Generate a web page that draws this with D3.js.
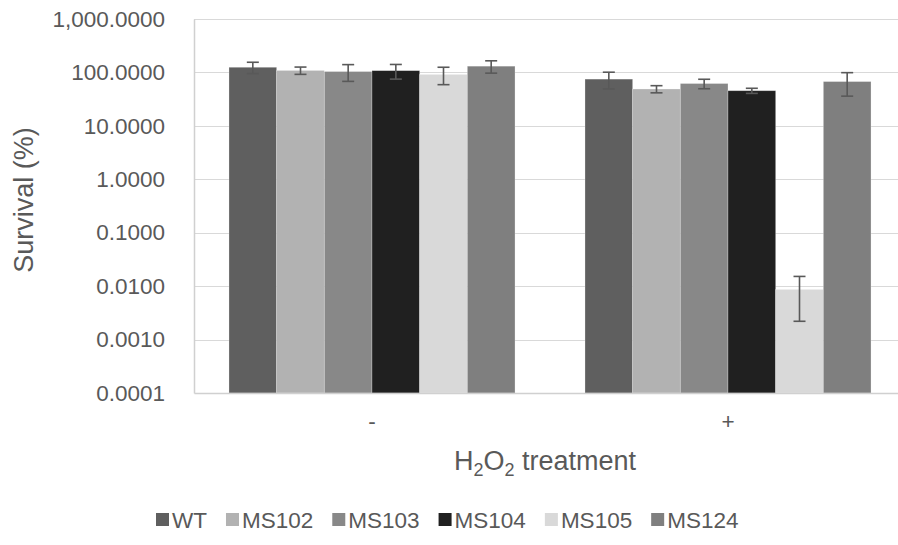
<!DOCTYPE html>
<html>
<head>
<meta charset="utf-8">
<script src="https://cdn.jsdelivr.net/npm/d3@7"></script>
<style>
  html, body { margin: 0; padding: 0; background: #fff; }
  svg { display: block; font-family: "Liberation Sans", Arial, sans-serif; }
</style>
</head>
<body>
<svg id="chart" width="898" height="545"></svg>
<script>
// Survival (%) of each strain with and without H2O2 treatment (log scale)
const treatments = ["-", "+"];
const strains = ["WT", "MS102", "MS103", "MS104", "MS105", "MS124"];
const strainColors = ["#5f5f5f", "#b2b2b2", "#888888", "#202020", "#d9d9d9", "#7f7f7f"];

// mean survival per strain, one array per treatment
const survivalUntreated = [125, 109, 104, 108, 92, 131];
const survivalTreated = [75, 49, 62, 45.5, 0.0087, 67.5];
// error bar half-lengths
const errorUntreated = [30, 17, 36, 33, 33, 34];
const errorTreated = [26, 7.5, 12.5, 5, 0.0065, 31.5];

const yTicks = [0.0001, 0.001, 0.01, 0.1, 1, 10, 100, 1000];

const svg = d3.select("#chart");
const plotLeft = 194, plotRight = 906, plotTop = 19, plotBottom = 393;
const textColor = "#595959";

const x0 = d3.scaleBand().domain(treatments).range([plotLeft, plotRight]).paddingInner(0).paddingOuter(0);
const x1 = d3.scaleBand().domain(strains).range([0, x0.bandwidth()]).paddingInner(0).paddingOuter(0.734);
const y = d3.scaleLog().domain([0.0001, 1000]).range([plotBottom, plotTop]);
const color = d3.scaleOrdinal().domain(strains).range(strainColors);

const rows = [
  { t: "-", values: survivalUntreated, errors: errorUntreated },
  { t: "+", values: survivalTreated, errors: errorTreated }
];

// gridlines
svg.append("g")
  .selectAll("line")
  .data(yTicks.slice(1))
  .join("line")
  .attr("x1", plotLeft).attr("x2", plotRight)
  .attr("y1", d => Math.round(y(d)) + 0.5).attr("y2", d => Math.round(y(d)) + 0.5)
  .attr("stroke", "#d9d9d9").attr("stroke-width", 1);

// y axis
const yAxis = svg.append("g")
  .attr("transform", `translate(${plotLeft},0)`)
  .call(d3.axisLeft(y).tickValues(yTicks).tickFormat(d3.format(",.4f")).tickSize(0).tickPadding(29));
yAxis.select(".domain").attr("stroke", "#d0d0d0").attr("stroke-width", 1.5);
yAxis.selectAll("text").attr("fill", textColor).style("font-size", "22.5px")
  .attr("font-family", "Liberation Sans, Arial, sans-serif");

// bars
const groups = svg.append("g")
  .selectAll("g")
  .data(rows)
  .join("g")
  .attr("transform", d => `translate(${x0(d.t)},0)`);

groups.selectAll("rect")
  .data(d => d.values.map((v, i) => ({ strain: strains[i], v, e: d.errors[i] })))
  .join("rect")
  .attr("x", d => x1(d.strain))
  .attr("width", x1.bandwidth())
  .attr("y", d => y(d.v))
  .attr("height", d => plotBottom - y(d.v))
  .attr("fill", d => color(d.strain))
  .attr("stroke", "#ffffff").attr("stroke-opacity", 0.35).attr("stroke-width", 0.75);

// error bars
const capHalf = 6;
const eb = groups.selectAll("g.err")
  .data(d => d.values.map((v, i) => ({ strain: strains[i], v, e: d.errors[i] })))
  .join("g").attr("class", "err")
  .attr("stroke", "#595959").attr("stroke-width", 1.6);
eb.append("line")
  .attr("x1", d => x1(d.strain) + x1.bandwidth() / 2)
  .attr("x2", d => x1(d.strain) + x1.bandwidth() / 2)
  .attr("y1", d => y(d.v + d.e)).attr("y2", d => y(d.v - d.e));
eb.append("line")
  .attr("x1", d => x1(d.strain) + x1.bandwidth() / 2 - capHalf)
  .attr("x2", d => x1(d.strain) + x1.bandwidth() / 2 + capHalf)
  .attr("y1", d => y(d.v + d.e)).attr("y2", d => y(d.v + d.e));
eb.append("line")
  .attr("x1", d => x1(d.strain) + x1.bandwidth() / 2 - capHalf)
  .attr("x2", d => x1(d.strain) + x1.bandwidth() / 2 + capHalf)
  .attr("y1", d => y(d.v - d.e)).attr("y2", d => y(d.v - d.e));

// x axis
const xAxis = svg.append("g")
  .attr("transform", `translate(0,${plotBottom})`)
  .call(d3.axisBottom(x0).tickSize(0).tickPadding(20));
xAxis.select(".domain").attr("stroke", "#d0d0d0").attr("stroke-width", 1.5);
xAxis.selectAll("text").attr("fill", textColor).style("font-size", "22.5px")
  .attr("font-family", "Liberation Sans, Arial, sans-serif");

// axis titles
const xTitle = svg.append("text")
  .attr("x", 545).attr("y", 470)
  .attr("text-anchor", "middle")
  .attr("fill", textColor).style("font-size", "27px");
xTitle.append("tspan").text("H");
xTitle.append("tspan").text("2").attr("dy", 6).style("font-size", "18px");
xTitle.append("tspan").text("O").attr("dy", -6);
xTitle.append("tspan").text("2").attr("dy", 6).style("font-size", "18px");
xTitle.append("tspan").text(" treatment").attr("dy", -6);

svg.append("text")
  .attr("transform", "translate(33,200) rotate(-90)")
  .attr("text-anchor", "middle")
  .attr("fill", textColor).style("font-size", "27px")
  .text("Survival (%)");

// legend
const legend = svg.append("g").attr("transform", "translate(0,520)");
let lx = 156;
strains.forEach(s => {
  const item = legend.append("g").attr("transform", `translate(${lx},0)`);
  item.append("rect").attr("x", 0).attr("y", -7).attr("width", 13).attr("height", 13).attr("fill", color(s));
  const t = item.append("text").attr("x", 16).attr("y", 8)
    .attr("fill", textColor).style("font-size", "22.5px").text(s);
  lx += 16 + t.node().getComputedTextLength() + 19;
});
</script>
</body>
</html>
